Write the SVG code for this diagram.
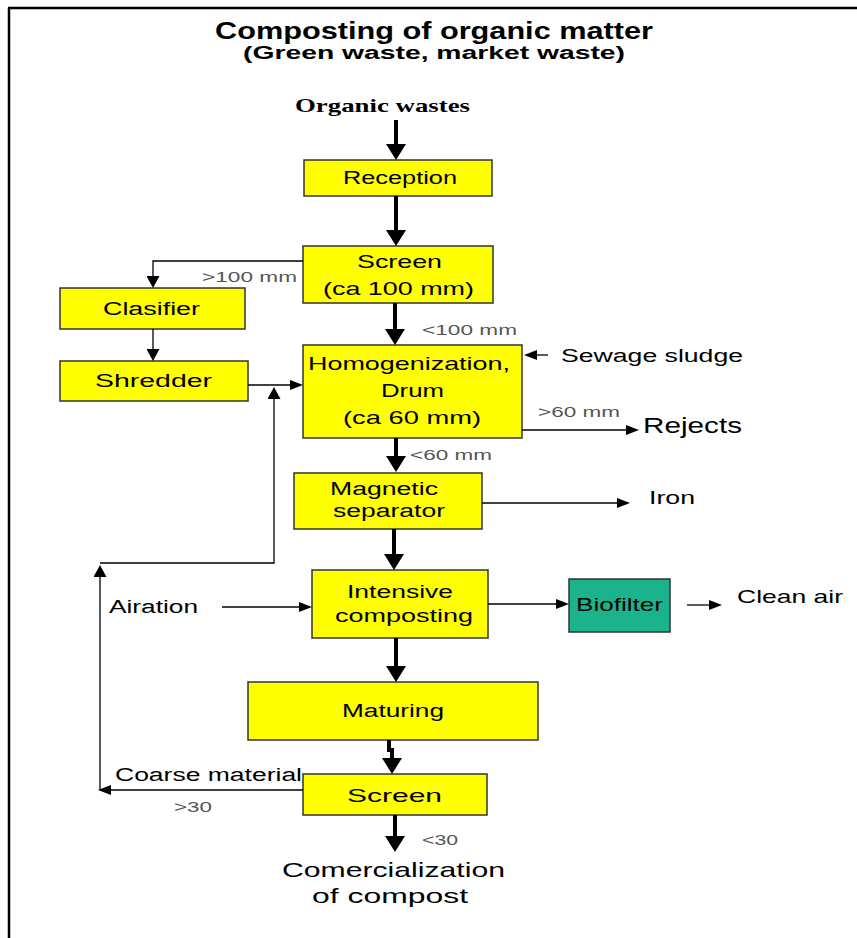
<svg xmlns="http://www.w3.org/2000/svg" width="857" height="938" viewBox="0 0 857 938">
<style>
.box{fill:#FFFF00;stroke:#333;stroke-width:1.5}
.bio{fill:#1BB38B;stroke:#333;stroke-width:1.5}
.t{font-family:"Liberation Sans",Arial,sans-serif;fill:#000}
.g{font-family:"Liberation Sans",Arial,sans-serif;fill:#555;font-size:15px}
.thick{stroke:#000;stroke-width:4;fill:none}
.thin{stroke:#000;stroke-width:1.3;fill:none}
</style>
<defs>
<marker id="big" markerUnits="userSpaceOnUse" markerWidth="16" markerHeight="20" viewBox="0 0 16 20" refX="0" refY="10" orient="auto"><path d="M0,0 L16,10 L0,20 z" fill="#000"/></marker>
<marker id="sm" markerUnits="userSpaceOnUse" markerWidth="13" markerHeight="10" viewBox="0 0 13 10" refX="0" refY="5" orient="auto"><path d="M0,0 L13,5 L0,10 z" fill="#000"/></marker>
<marker id="sm2" markerUnits="userSpaceOnUse" markerWidth="12" markerHeight="13" viewBox="0 0 12 13" refX="0" refY="6.5" orient="auto"><path d="M0,0 L12,6.5 L0,13 z" fill="#000"/></marker>
</defs>
<rect width="857" height="938" fill="#fff"/>
<g id="frame"><path d="M8,8 H857 M9,8 V938" stroke="#000" stroke-width="2.5" fill="none"/></g>

<g id="title">
<text class="t" x="215" y="39" font-size="23" font-weight="bold" textLength="438" lengthAdjust="spacingAndGlyphs">Composting of organic matter</text>
<text class="t" x="243" y="59" font-size="18" font-weight="bold" textLength="382" lengthAdjust="spacingAndGlyphs">(Green waste, market waste)</text>
</g>

<g id="organic-wastes"><text x="295" y="112" font-family="'Liberation Serif','Times New Roman',serif" font-size="19" font-weight="bold" textLength="175" lengthAdjust="spacingAndGlyphs">Organic wastes</text></g>

<g id="reception"><rect class="box" x="304" y="160" width="188" height="36"/>
<text class="t" x="343" y="184" font-size="18" textLength="114" lengthAdjust="spacingAndGlyphs">Reception</text></g>

<g id="screen1"><rect class="box" x="303" y="246" width="190" height="57"/>
<text class="t" x="357" y="268" font-size="19" textLength="85" lengthAdjust="spacingAndGlyphs">Screen</text>
<text class="t" x="323" y="295" font-size="19" textLength="151" lengthAdjust="spacingAndGlyphs">(ca 100 mm)</text></g>

<g id="clasifier"><rect class="box" x="60" y="288" width="185" height="41"/>
<text class="t" x="103" y="315" font-size="18" textLength="97" lengthAdjust="spacingAndGlyphs">Clasifier</text></g>

<g id="shredder"><rect class="box" x="60" y="361" width="188" height="40"/>
<text class="t" x="95" y="387" font-size="18" textLength="117" lengthAdjust="spacingAndGlyphs">Shredder</text></g>

<g id="homogenization"><rect class="box" x="303" y="345" width="219" height="93"/>
<text class="t" x="308" y="370" font-size="19" textLength="202" lengthAdjust="spacingAndGlyphs">Homogenization,</text>
<text class="t" x="381" y="397" font-size="19" textLength="63" lengthAdjust="spacingAndGlyphs">Drum</text>
<text class="t" x="343" y="424" font-size="19" textLength="138" lengthAdjust="spacingAndGlyphs">(ca 60 mm)</text></g>

<g id="magnetic"><rect class="box" x="294" y="473" width="188" height="56"/>
<text class="t" x="330" y="495" font-size="18" textLength="108" lengthAdjust="spacingAndGlyphs">Magnetic</text>
<text class="t" x="333" y="517" font-size="18" textLength="112" lengthAdjust="spacingAndGlyphs">separator</text></g>

<g id="intensive"><rect class="box" x="312" y="570" width="176" height="68"/>
<text class="t" x="347" y="598" font-size="18" textLength="106" lengthAdjust="spacingAndGlyphs">Intensive</text>
<text class="t" x="335" y="622" font-size="18" textLength="138" lengthAdjust="spacingAndGlyphs">composting</text></g>

<g id="biofilter"><rect class="bio" x="569" y="579" width="101" height="53"/>
<text class="t" x="576" y="611" font-size="18" textLength="87" lengthAdjust="spacingAndGlyphs">Biofilter</text></g>

<g id="maturing"><rect class="box" x="248" y="682" width="290" height="58"/>
<text class="t" x="342" y="717" font-size="18" textLength="102" lengthAdjust="spacingAndGlyphs">Maturing</text></g>

<g id="screen2"><rect class="box" x="303" y="774" width="184" height="41"/>
<text class="t" x="347" y="802" font-size="19" textLength="95" lengthAdjust="spacingAndGlyphs">Screen</text></g>

<g id="labels">
<text class="t" x="561" y="362" font-size="18" textLength="182" lengthAdjust="spacingAndGlyphs">Sewage sludge</text>
<text class="t" x="643" y="433" font-size="22" textLength="99" lengthAdjust="spacingAndGlyphs">Rejects</text>
<text class="t" x="649" y="504" font-size="18" textLength="46" lengthAdjust="spacingAndGlyphs">Iron</text>
<text class="t" x="737" y="603" font-size="19" textLength="106" lengthAdjust="spacingAndGlyphs">Clean air</text>
<text class="t" x="109" y="613" font-size="18" textLength="89" lengthAdjust="spacingAndGlyphs">Airation</text>
<text class="t" x="115" y="781" font-size="18" textLength="187" lengthAdjust="spacingAndGlyphs">Coarse material</text>
<text class="t" x="282" y="877" font-size="21" textLength="223" lengthAdjust="spacingAndGlyphs">Comercialization</text>
<text class="t" x="312" y="903" font-size="21" textLength="156" lengthAdjust="spacingAndGlyphs">of compost</text>
<text class="g" x="202" y="282" textLength="95" lengthAdjust="spacingAndGlyphs">&gt;100 mm</text>
<text class="g" x="422" y="335" textLength="95" lengthAdjust="spacingAndGlyphs">&lt;100 mm</text>
<text class="g" x="538" y="417" textLength="82" lengthAdjust="spacingAndGlyphs">&gt;60 mm</text>
<text class="g" x="410" y="460" textLength="82" lengthAdjust="spacingAndGlyphs">&lt;60 mm</text>
<text class="g" x="174" y="812" textLength="38" lengthAdjust="spacingAndGlyphs">&gt;30</text>
<text class="g" x="422" y="845" textLength="36" lengthAdjust="spacingAndGlyphs">&lt;30</text>
</g>

<g id="connectors">
<line class="thick" x1="396" y1="120" x2="396" y2="144" marker-end="url(#big)"/>
<line class="thick" x1="396" y1="196" x2="396" y2="230" marker-end="url(#big)"/>
<line class="thick" x1="395" y1="303" x2="395" y2="329" marker-end="url(#big)"/>
<line class="thick" x1="396" y1="438" x2="396" y2="456" marker-end="url(#big)"/>
<line class="thick" x1="394" y1="529" x2="394" y2="554" marker-end="url(#big)"/>
<line class="thick" x1="396" y1="638" x2="396" y2="666" marker-end="url(#big)"/>
<path class="thick" d="M389,740 V750 H392 V758" marker-end="url(#big)"/>
<line class="thick" x1="395" y1="815" x2="395" y2="836" marker-end="url(#big)"/>
<path class="thin" d="M303,261 H153 V276" marker-end="url(#sm2)"/>
<line class="thin" x1="153" y1="329" x2="153" y2="349" marker-end="url(#sm2)"/>
<line class="thin" x1="248" y1="385" x2="290" y2="385" marker-end="url(#sm)"/>
<path class="thin" d="M100,563 H274 V399" marker-end="url(#sm2)"/>
<line class="thin" x1="303" y1="790" x2="111" y2="790" marker-end="url(#sm)"/>
<line class="thin" x1="100" y1="790" x2="100" y2="577" marker-end="url(#sm2)"/>
<line class="thin" x1="548" y1="355" x2="537" y2="355" marker-end="url(#sm)"/>
<line class="thin" x1="522" y1="430" x2="626" y2="430" marker-end="url(#sm)"/>
<line class="thin" x1="482" y1="503" x2="617" y2="503" marker-end="url(#sm)"/>
<line class="thin" x1="222" y1="607" x2="299" y2="607" marker-end="url(#sm)"/>
<line class="thin" x1="488" y1="604" x2="556" y2="604" marker-end="url(#sm)"/>
<line class="thin" x1="687" y1="605" x2="709" y2="605" marker-end="url(#sm)"/>
</g>
</svg>
